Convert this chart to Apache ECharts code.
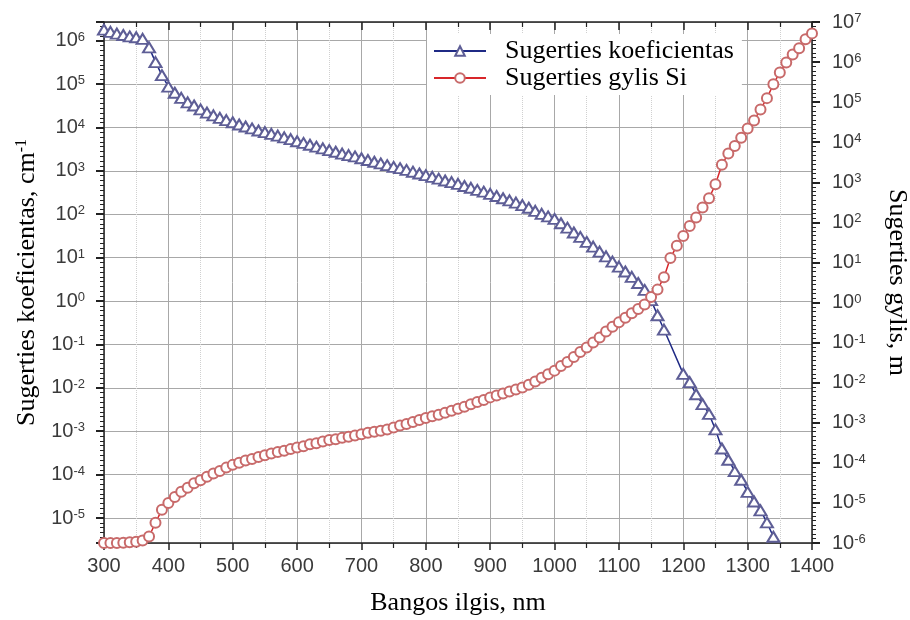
<!DOCTYPE html>
<html><head><meta charset="utf-8">
<script src="https://cdn.jsdelivr.net/npm/echarts@6/dist/echarts.min.js"></script>
<style>html,body{margin:0;padding:0;background:#fff}#c{width:910px;height:620px}</style>
</head><body><div id="c"></div>
<script>
// Absorption coefficient (left axis, cm^-1)
const wavelengthCoef = [300,310,320,330,340,350,360,370,380,390,
  400,410,420,430,440,450,460,470,480,490,
  500,510,520,530,540,550,560,570,580,590,
  600,610,620,630,640,650,660,670,680,690,
  700,710,720,730,740,750,760,770,780,790,
  800,810,820,830,840,850,860,870,880,890,
  900,910,920,930,940,950,960,970,980,990,
  1000,1010,1020,1030,1040,1050,1060,1070,1080,1090,
  1100,1110,1120,1130,1140,1150,1160,1170,
  1200,1210,1220,1230,1240,1250,1260,1270,1280,1290,
  1300,1310,1320,1330,1340];
const absorptionCoef = [1.8e6,1.6e6,1.45e6,1.35e6,1.25e6,1.2e6,1.1e6,7.0e5,3.2e5,1.6e5,
  8.7e4,6.3e4,4.8e4,3.8e4,3.2e4,2.6e4,2.2e4,1.9e4,1.66e4,1.48e4,
  1.32e4,1.17e4,1.05e4,9500,8500,7800,7100,6500,5900,5400,
  4800,4400,4000,3600,3300,3000,2750,2500,2300,2150,
  1950,1780,1620,1480,1350,1230,1150,1050,955,870,
  795,725,660,600,550,500,447,407,363,331,
  295,263,234,209,186,162,141,120,102,89,
  78,62,49,38,30,23,18,13.8,10.7,8.1,
  6.2,4.8,3.6,2.6,1.8,1.05,0.47,0.22,
  0.021,0.0135,0.0071,0.0042,0.0025,0.0011,4.0e-4,2.2e-4,1.2e-4,7.6e-5,
  4.0e-5,2.4e-5,1.5e-5,7.9e-6,3.7e-6];

// Absorption depth in Si (right axis, m)
const wavelengthDepth = [300,310,320,330,340,350,360,370,380,390,
  400,410,420,430,440,450,460,470,480,490,
  500,510,520,530,540,550,560,570,580,590,
  600,610,620,630,640,650,660,670,680,690,
  700,710,720,730,740,750,760,770,780,790,
  800,810,820,830,840,850,860,870,880,890,
  900,910,920,930,940,950,960,970,980,990,
  1000,1010,1020,1030,1040,1050,1060,1070,1080,1090,
  1100,1110,1120,1130,1140,1150,1160,1170,1180,1190,
  1200,1210,1220,1230,1240,1250,1260,1270,1280,1290,
  1300,1310,1320,1330,1340,1350,1360,1370,1380,1390,1400];
const absorptionDepth = [1.0e-6,1.0e-6,1.0e-6,1.02e-6,1.05e-6,1.08e-6,1.15e-6,1.45e-6,3.2e-6,6.8e-6,
  1.0e-5,1.4e-5,1.9e-5,2.4e-5,3.1e-5,3.7e-5,4.5e-5,5.4e-5,6.3e-5,7.6e-5,
  8.9e-5,1.0e-4,1.15e-4,1.25e-4,1.4e-4,1.55e-4,1.7e-4,1.86e-4,2.0e-4,2.2e-4,
  2.4e-4,2.6e-4,2.9e-4,3.1e-4,3.4e-4,3.7e-4,3.9e-4,4.2e-4,4.5e-4,4.8e-4,
  5.2e-4,5.6e-4,6.0e-4,6.3e-4,6.8e-4,7.6e-4,8.5e-4,9.3e-4,1.05e-3,1.17e-3,
  1.32e-3,1.45e-3,1.58e-3,1.78e-3,2.0e-3,2.24e-3,2.5e-3,2.9e-3,3.3e-3,3.7e-3,
  4.3e-3,4.8e-3,5.4e-3,6.0e-3,6.8e-3,7.6e-3,8.9e-3,1.07e-2,1.32e-2,1.62e-2,
  2.0e-2,2.6e-2,3.3e-2,4.4e-2,5.8e-2,7.6e-2,0.10,0.135,0.19,0.25,
  0.32,0.42,0.54,0.69,0.89,1.38,2.1,4.3,13,26,
  46,81,132,234,400,890,2750,5200,8100,1.3e4,
  2.2e4,3.5e4,6.6e4,1.26e5,2.8e5,5.5e5,9.8e5,1.55e6,2.2e6,3.7e6,5.2e6];

const seriesNames = ['Sugerties koeficientas', 'Sugerties gylis Si'];
const xTitle = 'Bangos ilgis, nm';
const leftTitle = 'Sugerties koeficientas, cm';
const rightTitle = 'Sugerties gylis, m';

// axis ranges (decade exponents)
const leftExpRange = [-5.576, 6.43];
const rightExpRange = [-6, 7];

const pairs = (xs, ys) => xs.map((x, i) => [x, ys[i]]);

const labelFont = 'Liberation Sans';
const titleFont = 'Liberation Serif';
const labelColor = '#3a3a3a';
const expLabel = v => {
  if (Math.abs(v - Math.round(v)) > 1e-6) return '';
  return '{b|10}{s|' + Math.round(v) + '}';
};
const labelRich = {
  b: {fontFamily: labelFont, fontSize: 20, color: labelColor},
  s: {fontFamily: labelFont, fontSize: 13, color: labelColor, verticalAlign: 'top'}
};

const chart = echarts.init(document.getElementById('c'), null, {renderer: 'canvas'});
chart.setOption({
  animation: false,
  backgroundColor: '#fff',
  textStyle: {fontFamily: labelFont},
  grid: {left: 104, right: 98, top: 22, bottom: 77, outerBoundsMode: 'none', containLabel: false},
  legend: {
    orient: 'vertical', left: 427, top: 34,
    padding: [4, 8, 4, 6], itemGap: 1,
    itemWidth: 52, itemHeight: 12,
    backgroundColor: '#fff',
    textStyle: {fontFamily: titleFont, fontSize: 26, color: '#000', padding: [0, 0, 0, 14]},
    data: seriesNames
  },
  xAxis: [{
    type: 'value', min: 300, max: 1400, interval: 100,
    name: xTitle, nameLocation: 'middle', nameGap: 47,
    nameTextStyle: {fontFamily: titleFont, fontSize: 26, color: '#000'},
    axisLine: {onZero: false, lineStyle: {color: '#222', width: 1.5}},
    axisTick: {inside: false, length: 7, lineStyle: {color: '#222', width: 1.5}},
    minorTick: {show: true, splitNumber: 2, length: 5, lineStyle: {color: '#222', width: 1.2}},
    axisLabel: {margin: 13, fontFamily: labelFont, fontSize: 20, color: labelColor, formatter: v => String(v)},
    splitLine: {show: true, lineStyle: {color: '#a8a8a8', width: 1}},
    minorSplitLine: {show: true, lineStyle: {color: '#d0d0d0', width: 1, type: 'dotted'}}
  }, {
    type: 'value', position: 'top', min: 300, max: 1400, interval: 100,
    axisLine: {onZero: false, lineStyle: {color: '#222', width: 1.5}},
    axisTick: {inside: true, length: 8, lineStyle: {color: '#222', width: 1.5}},
    minorTick: {show: true, splitNumber: 2, length: 5, lineStyle: {color: '#222', width: 1.2}},
    axisLabel: {show: false},
    splitLine: {show: false}
  }],
  yAxis: [{
    type: 'value', position: 'left', min: leftExpRange[0], max: leftExpRange[1], splitNumber: 12,
    name: '{t|' + leftTitle + '}{u|-1}', nameLocation: 'middle', nameGap: 64, nameRotate: 90,
    nameTextStyle: {rich: {
      t: {fontFamily: titleFont, fontSize: 26, color: '#000'},
      u: {fontFamily: titleFont, fontSize: 16, color: '#000', verticalAlign: 'top'}
    }},
    axisLine: {show: true, onZero: false, lineStyle: {color: '#222', width: 1.5}},
    axisTick: {show: true, inside: false, length: 8, lineStyle: {color: '#222', width: 2}},
    minorTick: {show: true, splitNumber: 9, length: 4, lineStyle: {color: '#222', width: 1}},
    axisLabel: {margin: 19, formatter: expLabel, rich: labelRich, showMinLabel: false, showMaxLabel: false},
    splitLine: {show: true, lineStyle: {color: '#a8a8a8', width: 1}}
  }, {
    type: 'value', position: 'right', min: rightExpRange[0], max: rightExpRange[1], interval: 1,
    name: rightTitle, nameLocation: 'middle', nameGap: 72, nameRotate: -90,
    nameTextStyle: {fontFamily: titleFont, fontSize: 26, color: '#000'},
    axisLine: {show: true, onZero: false, lineStyle: {color: '#222', width: 1.5}},
    axisTick: {show: true, inside: false, length: 8, lineStyle: {color: '#222', width: 2}},
    minorTick: {show: true, splitNumber: 9, length: 4, lineStyle: {color: '#222', width: 1}},
    axisLabel: {margin: 20, formatter: expLabel, rich: labelRich},
    splitLine: {show: false}
  }, {
    type: 'log', show: false, position: 'left',
    min: Math.pow(10, leftExpRange[0]), max: Math.pow(10, leftExpRange[1]),
    splitLine: {show: false}
  }, {
    type: 'log', show: false, position: 'right',
    min: Math.pow(10, rightExpRange[0]), max: Math.pow(10, rightExpRange[1]),
    splitLine: {show: false}
  }],
  series: [{
    name: seriesNames[0], type: 'line', xAxisIndex: 0, yAxisIndex: 2,
    data: pairs(wavelengthCoef, absorptionCoef),
    symbol: 'emptyTriangle', symbolSize: [12, 10],
    itemStyle: {color: '#5e5e96', borderColor: '#5e5e96', borderWidth: 1.2},
    lineStyle: {color: '#1f2a85', width: 1.5}
  }, {
    name: seriesNames[1], type: 'line', xAxisIndex: 0, yAxisIndex: 3,
    data: pairs(wavelengthDepth, absorptionDepth),
    symbol: 'emptyCircle', symbolSize: 10,
    itemStyle: {color: '#c86a6a', borderColor: '#c86a6a', borderWidth: 1.2},
    lineStyle: {color: '#d8262a', width: 1.5}
  }]
});
</script></body></html>
